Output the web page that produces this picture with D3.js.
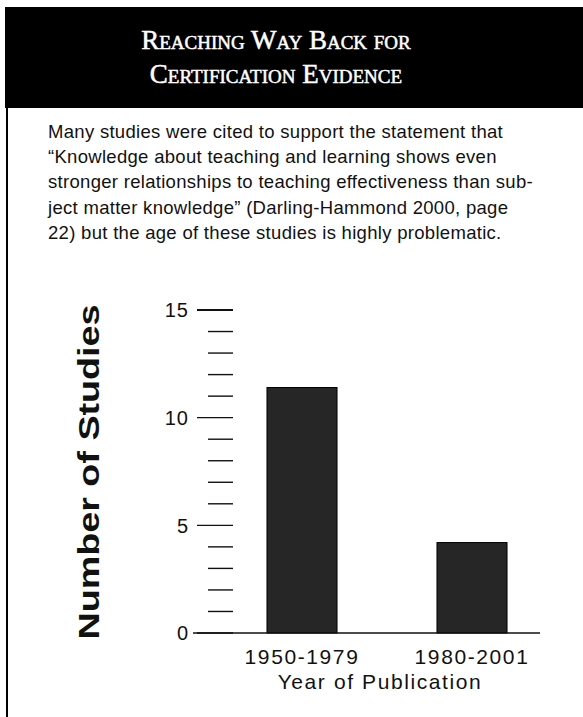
<!DOCTYPE html>
<html>
<head>
<meta charset="utf-8">
<script src="https://cdn.jsdelivr.net/npm/d3@7"></script>
<style>
body{margin:0;background:#fff;}
svg{display:block;}
</style>
</head>
<body>
<script>
var titleLines = ["Reaching Way Back for", "Certification Evidence"];
var noteLines = [
    "Many studies were cited to support the statement that",
    "\u201cKnowledge about teaching and learning shows even",
    "stronger relationships to teaching effectiveness than sub-",
    "ject matter knowledge\u201d (Darling-Hammond 2000, page",
    "22) but the age of these studies is highly problematic."
];
var periods = ["1950-1979", "1980-2001"];
var studies = [11.4, 4.2];
var yTicks = [0, 1, 2, 3, 4, 5, 6, 7, 8, 9, 10, 11, 12, 13, 14, 15];
var yLabels = [0, 5, 10, 15];

var width = 583,
    height = 717;

var sans = "'Liberation Sans', Arial, sans-serif";

var svg = d3.select("body").append("svg")
    .attr("width", width)
    .attr("height", height);

// header block
svg.append("rect")
    .attr("x", 5).attr("y", 7)
    .attr("width", width - 5).attr("height", 101)
    .attr("fill", "#000");

svg.append("line")
    .attr("x1", 7).attr("x2", 7)
    .attr("y1", 108).attr("y2", height)
    .attr("stroke", "#000").attr("stroke-width", 2);

svg.append("g")
    .selectAll("text")
    .data(titleLines).enter()
    .append("text")
    .attr("x", 276)
    .attr("y", function(d, i){return 49 + i*34;})
    .attr("text-anchor", "middle")
    .style("font-family", "'Liberation Serif', 'DejaVu Serif', serif")
    .style("font-variant", "small-caps")
    .style("font-size", "27px")
    .attr("fill", "#fff")
    .attr("stroke", "#fff")
    .attr("stroke-width", 0.5)
    .text(function(d){return d;});

svg.append("g")
    .selectAll("text")
    .data(noteLines).enter()
    .append("text")
    .attr("x", 48)
    .attr("y", function(d, i){return 138 + i*25.2;})
    .style("font-family", sans)
    .style("font-size", "18.5px")
    .style("letter-spacing", "0.3px")
    .attr("fill", "#111")
    .text(function(d){return d;});

// chart
var y = d3.scaleLinear().domain([0, 15]).range([633, 310]);
var x = d3.scaleBand().domain(periods).range([217, 557])
    .paddingInner(0.588).paddingOuter(0.294);

svg.append("g").attr("class", "ticks")
    .selectAll("line")
    .data(yTicks).enter()
    .append("line")
    .attr("x1", function(d){return d % 5 == 0 ? 197 : 208;})
    .attr("x2", 233)
    .attr("y1", function(d){return y(d);})
    .attr("y2", function(d){return y(d);})
    .attr("stroke", "#111")
    .attr("stroke-width", function(d){return d == 15 ? 2 : 1.4;});

svg.append("g")
    .selectAll("text")
    .data(yLabels).enter()
    .append("text")
    .attr("x", 189)
    .attr("y", function(d){return y(d);})
    .attr("dy", "0.36em")
    .attr("text-anchor", "end")
    .style("font-family", sans)
    .style("font-size", "20px")
    .style("letter-spacing", "1px")
    .attr("fill", "#111")
    .text(function(d){return d;});

svg.append("g")
    .selectAll("rect")
    .data(studies).enter()
    .append("rect")
    .attr("x", function(d, i){return x(periods[i]);})
    .attr("width", x.bandwidth())
    .attr("y", function(d){return y(d);})
    .attr("height", function(d){return y(0) - y(d);})
    .attr("fill", "#262626")
    .attr("stroke", "#000")
    .attr("stroke-width", 1);

svg.append("line")
    .attr("x1", 193).attr("x2", 540)
    .attr("y1", y(0)).attr("y2", y(0))
    .attr("stroke", "#111").attr("stroke-width", 1.4);

svg.append("g")
    .selectAll("text")
    .data(periods).enter()
    .append("text")
    .attr("x", function(d){return x(d) + x.bandwidth()/2;})
    .attr("y", 664)
    .attr("text-anchor", "middle")
    .style("font-family", sans)
    .style("font-size", "21px")
    .style("letter-spacing", "1.6px")
    .attr("fill", "#111")
    .text(function(d){return d;});

svg.append("text")
    .attr("x", 380)
    .attr("y", 689)
    .attr("text-anchor", "middle")
    .style("font-family", sans)
    .style("font-size", "21px")
    .style("letter-spacing", "1.6px")
    .attr("fill", "#111")
    .text("Year of Publication");

svg.append("text")
    .attr("transform", "translate(99,472) rotate(-90)")
    .attr("text-anchor", "middle")
    .attr("textLength", 335)
    .attr("lengthAdjust", "spacingAndGlyphs")
    .style("font-family", sans)
    .style("font-size", "29px")
    .style("font-weight", "bold")
    .attr("fill", "#111")
    .text("Number of Studies");
</script>
</body>
</html>
